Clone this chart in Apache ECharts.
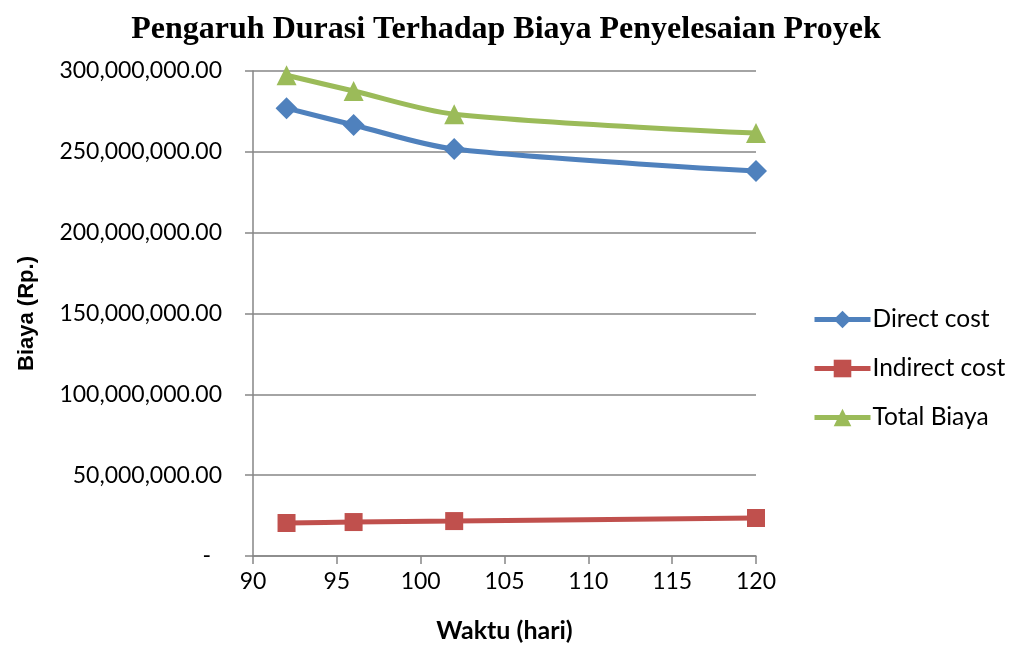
<!DOCTYPE html>
<html>
<head>
<meta charset="utf-8">
<script src="https://cdn.jsdelivr.net/npm/echarts@6/dist/echarts.min.js"></script>
<style>html,body{margin:0;padding:0;background:#fff}#c{width:1012px;height:646px}</style>
</head>
<body>
<div id="c"></div>
<script>
var durations = [92, 96, 102, 120];
var directCost = [277000000, 266600000, 251700000, 238100000];
var indirectCost = [20400000, 21000000, 21600000, 23500000];
var totalCost = [297400000, 287600000, 273300000, 261600000];
var seriesNames = ['Direct cost', 'Indirect cost', 'Total Biaya'];

function pairs(xs, ys) { return xs.map(function (x, i) { return [x, ys[i]]; }); }
function fmt(v) {
  if (v === 0) return '{d|-}';
  var s = Math.round(v).toString().replace(/\B(?=(\d{3})+(?!\d))/g, ',');
  return s + '.00';
}
var LBL = 'Lato';
var chart = echarts.init(document.getElementById('c'));
chart.setOption({
  animation: false,
  title: {
    text: 'Pengaruh Durasi Terhadap Biaya Penyelesaian Proyek',
    left: 'center', top: 9,
    textStyle: { fontFamily: 'Liberation Serif', fontWeight: 'bold', fontSize: 32, color: '#000' }
  },
  grid: { left: 253, right: 256, top: 71, bottom: 90, outerBoundsMode: 'none', containLabel: false },
  xAxis: {
    type: 'value', min: 90, max: 120, interval: 5,
    name: 'Waktu (hari)', nameLocation: 'middle', nameGap: 62,
    nameTextStyle: { fontFamily: LBL, fontWeight: 'bold', fontSize: 25, color: '#000' },
    axisLine: { lineStyle: { color: '#868686', width: 1.5 } },
    axisTick: { show: true, length: 8, lineStyle: { color: '#868686', width: 1.5 } },
    axisLabel: { fontFamily: LBL, fontSize: 23, color: '#000', margin: 14 },
    splitLine: { show: false }
  },
  yAxis: {
    type: 'value', min: 0, max: 300000000, interval: 50000000,
    name: 'Biaya (Rp.)', nameLocation: 'middle', nameGap: 215, nameRotate: 90,
    nameTextStyle: { fontFamily: 'Liberation Sans', fontWeight: 'bold', fontSize: 22, color: '#000' },
    axisLine: { show: true, lineStyle: { color: '#868686', width: 1.5 } },
    axisTick: { show: true, length: 8, lineStyle: { color: '#868686', width: 1.5 } },
    axisLabel: { fontFamily: LBL, fontSize: 23, color: '#000', margin: 31, formatter: fmt,
      rich: { d: { fontFamily: LBL, fontSize: 23, color: '#000', padding: [0, 11, 0, 0] } } },
    splitLine: { show: true, lineStyle: { color: '#868686', width: 1.5 } }
  },
  legend: {
    orient: 'vertical', left: 807, top: 302, itemGap: 24,
    itemWidth: 56, itemHeight: 22,
    lineStyle: { width: 5 },
    textStyle: { fontFamily: LBL, fontSize: 24.5, color: '#000', padding: [0, 0, 0, -3] },
    data: seriesNames
  },
  series: [
    { name: seriesNames[0], type: 'line', data: pairs(durations, directCost), smooth: 0.3,
      symbol: 'diamond', symbolSize: 22, lineStyle: { width: 5, color: '#4F81BD' },
      itemStyle: { color: '#4F81BD' } },
    { name: seriesNames[1], type: 'line', data: pairs(durations, indirectCost), smooth: 0.3,
      symbol: 'rect', symbolSize: 18, lineStyle: { width: 5, color: '#C0504D' },
      itemStyle: { color: '#C0504D' } },
    { name: seriesNames[2], type: 'line', data: pairs(durations, totalCost), smooth: 0.3,
      symbol: 'triangle', symbolSize: 20, lineStyle: { width: 5, color: '#9BBB59' },
      itemStyle: { color: '#9BBB59' } }
  ]
});
</script>
</body>
</html>
